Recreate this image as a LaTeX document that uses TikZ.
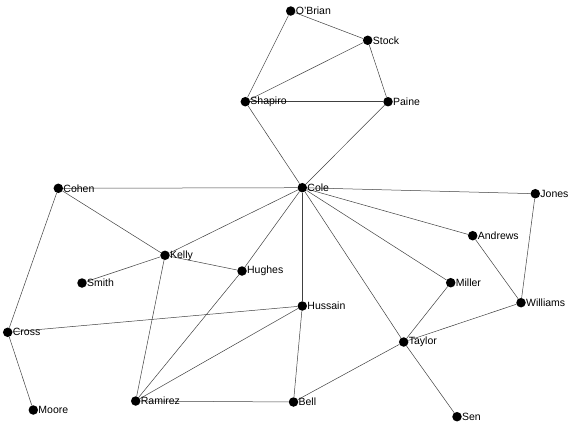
\documentclass[tikz,border=0pt]{standalone}
\usepackage{fontspec}
\setmainfont{Liberation Sans}
\usetikzlibrary{positioning, backgrounds}

\tikzset{
  actor/.style={circle, fill=black, inner sep=0pt, minimum size=9.5pt},
  who/.style={font=\fontsize{10.5}{12}\selectfont, inner sep=0pt},
  tie/.style={draw=black!75, line width=0.5pt}
}

\begin{document}
\begin{tikzpicture}[x=1pt, y=-1pt]
  \useasboundingbox (0,0) rectangle (583,426);

  % Actors
  \foreach \n/\x/\y/\t in {obrian/290.7/11/O'Brian, stock/367.7/40.3/Stock,
      shapiro/245.3/101.7/Shapiro, paine/388/101.7/Paine, cole/302.3/187.7/Cole,
      cohen/58.3/188.3/Cohen, jones/535.3/193.7/Jones, andrews/472.7/235.7/Andrews,
      kelly/165/255.3/Kelly, hughes/242/271/Hughes, smith/82/283/Smith,
      miller/450.7/282.7/Miller, hussain/302.3/306/Hussain, williams/521/302.7/Williams,
      cross/7.7/332.3/Cross, taylor/403.7/342/Taylor, moore/33.3/410/Moore,
      ramirez/135.7/401/Ramirez, bell/293.5/402/Bell, sen/457/416.7/Sen} {
    \node[actor] (\n) at (\x,\y) {};
    \node[who, right=0pt of \n] (\n-name) {\t};
  }

  % Ties
  \begin{scope}[on background layer]
    \foreach \a/\b in {obrian/stock, obrian/shapiro, stock/shapiro, stock/paine,
        shapiro/paine, shapiro/cole, paine/cole, cohen/cole, cole/jones,
        cole/andrews, cole/kelly, cole/hughes, cole/hussain, cole/miller,
        cole/taylor, cohen/kelly, cohen/cross, kelly/smith, kelly/hughes,
        kelly/ramirez, hughes/ramirez, hussain/ramirez, hussain/cross,
        hussain/bell, ramirez/bell, bell/taylor, taylor/miller,
        taylor/williams, taylor/sen, andrews/williams, jones/williams,
        cross/moore}
      \draw[tie] (\a) -- (\b);
  \end{scope}
\end{tikzpicture}
\end{document}
